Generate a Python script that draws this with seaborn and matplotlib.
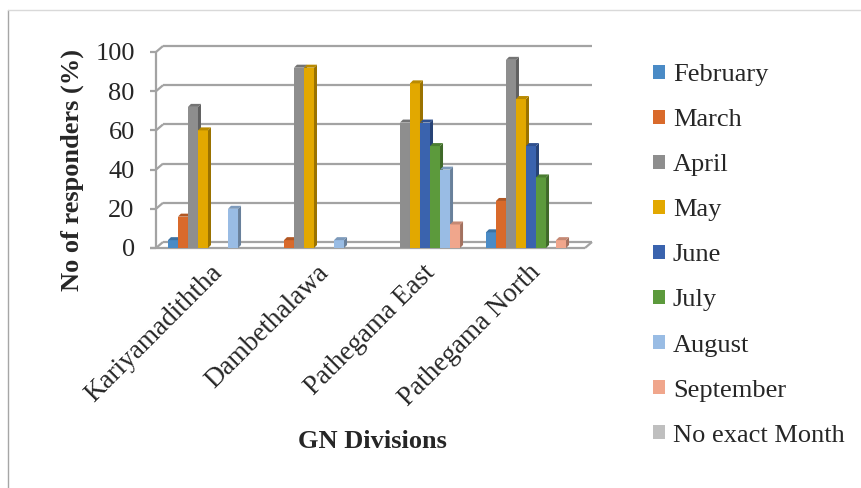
import matplotlib
matplotlib.use("Agg")
import matplotlib.pyplot as plt
import matplotlib.colors as mcolors
from matplotlib.patches import Polygon, Patch
from matplotlib.lines import Line2D
from matplotlib.transforms import ScaledTranslation
import numpy as np
import pandas as pd
import seaborn as sns

# ---- data -------------------------------------------------------------
divisions = ["Kariyamadiththa", "Dambethalawa", "Pathegama East", "Pathegama North"]
months = ["February", "March", "April", "May", "June", "July",
          "August", "September", "No exact Month"]
february = [4, 0, 0, 8]
march = [16, 4, 0, 24]
april = [72, 92, 64, 96]
may = [60, 92, 84, 76]
june = [0, 0, 64, 52]
july = [0, 0, 52, 36]
august = [20, 4, 40, 0]
september = [0, 0, 12, 4]
no_exact_month = [0, 0, 0, 0]
y_ticks = [0, 20, 40, 60, 80, 100]

series = [february, march, april, may, june, july, august, september, no_exact_month]
colors = ["#4A8BC6", "#D96A2B", "#8E8E8E", "#E2A800", "#3A63AE",
          "#5C9A3C", "#99BCE4", "#F0A68C", "#BFBFBF"]

df = pd.DataFrame(
    [(d, m, v) for m, vals in zip(months, series) for d, v in zip(divisions, vals)],
    columns=["division", "month", "value"],
)

# ---- figure / axes geometry (pixel based) ----------------------------
W, H = 861, 488
fig = plt.figure(figsize=(W / 100, H / 100), dpi=100)
sns.set_style("white")
plt.rcParams["font.family"] = ["Liberation Serif", "DejaVu Serif"]

px_per_cat = 106.0
px_per_unit = 1.96
x_c0 = 213.0          # pixel x of first category centre
y_base = 248.0        # pixel y of value 0 (front)
x_left_px = 150.0
x_right_px = 595.0
y_top_val = 104.5

xlim = ((x_left_px - x_c0) / px_per_cat, (x_right_px - x_c0) / px_per_cat)
ax = fig.add_axes([x_left_px / W, (H - y_base) / H,
                   (x_right_px - x_left_px) / W, y_top_val * px_per_unit / H])
ax.patch.set_alpha(0)

sns.barplot(data=df, x="division", y="value", hue="month", hue_order=months,
            order=divisions, palette=colors, saturation=1, width=0.85, gap=0,
            edgecolor="none", linewidth=0, legend=False, ax=ax, errorbar=None)

ax.set_xlim(*xlim)
ax.set_ylim(0, y_top_val)
for s in ax.spines.values():
    s.set_visible(False)

# 3-D walls and floor
DX = 7 / px_per_cat
DY = 6 / px_per_unit
x_wall = (156 - x_c0) / px_per_cat
x_floor_r = (585 - x_c0) / px_per_cat
grid_kw = dict(color="#A3A3A3", lw=1.6, solid_capstyle="butt", clip_on=False, zorder=1)
for v in y_ticks:
    ax.plot([x_wall + DX, x_floor_r + DX], [v + DY, v + DY], **grid_kw)
    ax.plot([x_wall, x_wall + DX], [v, v + DY], **grid_kw)
    ax.plot([xlim[0], x_wall], [v, v], **grid_kw)
ax.plot([x_wall, x_wall], [0, y_ticks[-1]], **grid_kw)
ax.plot([xlim[0], x_floor_r], [0, 0], **grid_kw)
ax.plot([x_floor_r, x_floor_r + DX], [0, DY], **grid_kw)

# shaded side and top faces for every bar
dxb = 3 / px_per_cat
dyb = 3 / px_per_unit
def shade(c, f):
    r, g, b = mcolors.to_rgb(c)
    return (r * f, g * f, b * f)

for i, cont in enumerate(ax.containers):
    z = 3 + i * 0.1
    for p in cont.patches:
        p.set_zorder(z)
        h = p.get_height()
        if h <= 0:
            continue
        x0 = p.get_x()
        x1 = x0 + p.get_width()
        c = p.get_facecolor()
        side = Polygon([(x1, 0), (x1 + dxb, dyb), (x1 + dxb, h + dyb), (x1, h)],
                       closed=True, facecolor=shade(c, 0.68), edgecolor="none", zorder=z)
        top = Polygon([(x0, h), (x0 + dxb, h + dyb), (x1 + dxb, h + dyb), (x1, h)],
                      closed=True, facecolor=shade(c, 0.82), edgecolor="none", zorder=z)
        ax.add_patch(side)
        ax.add_patch(top)

# ticks and labels
fs = 19
ax.set_yticks(y_ticks)
ax.set_yticklabels([str(v) for v in y_ticks], fontsize=fs)
ax.tick_params(axis="y", length=0, pad=11)
ax.set_xticks(range(len(divisions)))
ax.set_xticklabels(divisions, fontsize=fs + 0.5, rotation=45, ha="right",
                   rotation_mode="anchor", va="center")
ax.tick_params(axis="x", length=0, pad=15)
shift = ScaledTranslation(6 / 100, 0, fig.dpi_scale_trans)
for lbl in ax.get_xticklabels():
    lbl.set_transform(lbl.get_transform() + shift)
ax.set_xlabel("")
ax.set_ylabel("")

fig.text(72 / W, 1 - 170 / H, "No of responders (%)", rotation=90,
         ha="center", va="center", fontsize=fs, fontweight="bold")
fig.text(372 / W, 1 - 441 / H, "GN Divisions", ha="center", va="center",
         fontsize=fs, fontweight="bold")

# legend
handles = [Patch(facecolor=c, edgecolor="none") for c in colors]
fig.legend(handles, months, loc="upper left", bbox_to_anchor=(653 / W, 1 - 64 / H),
           frameon=False, fontsize=fs, handlelength=0.45, handleheight=0.45,
           handletextpad=0.3, labelspacing=0.875, borderpad=0, borderaxespad=0)

# chart frame
fig.add_artist(Line2D([8 / W, 8 / W], [1 - 10 / H, 0], transform=fig.transFigure,
                      color="#A6A6A6", lw=1))
fig.add_artist(Line2D([8 / W, 1], [1 - 10 / H, 1 - 10 / H], transform=fig.transFigure,
                      color="#D9D9D9", lw=1))

fig.savefig("out.png", dpi=100)
